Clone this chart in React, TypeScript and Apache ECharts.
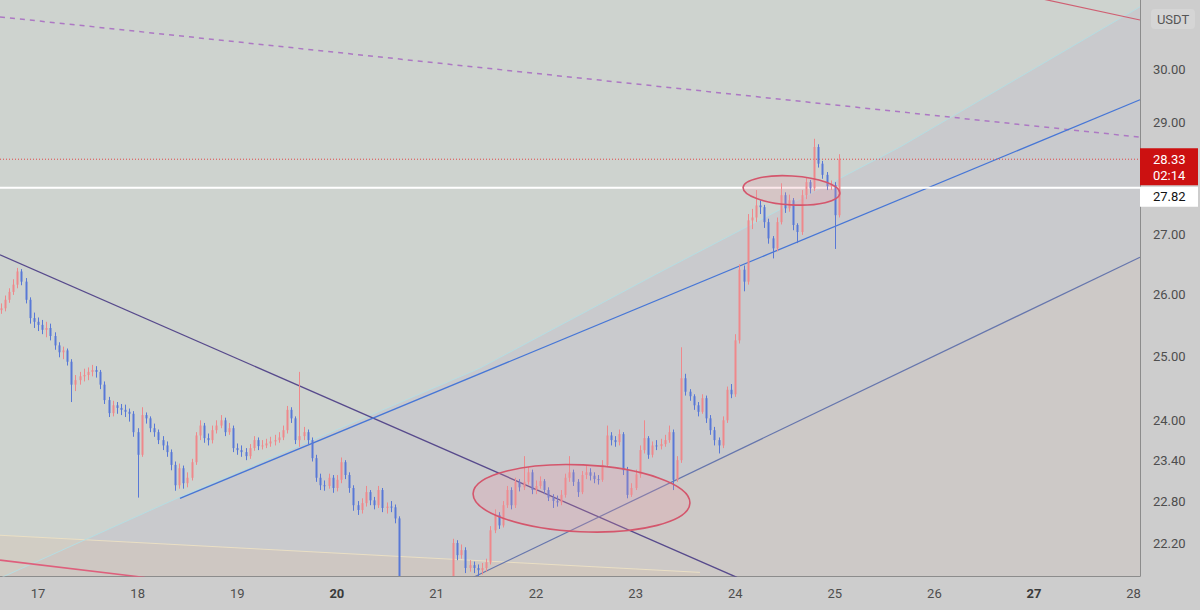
import React, { useEffect, useRef } from "react";
import * as echarts from "echarts";

// ---- axes ----
const X_MIN = 16.618;
const X_MAX = 28.064;
const P_MIN = 21.74;
const P_MAX = 31.345;
const dayTicks = [17, 18, 19, 20, 21, 22, 23, 24, 25, 26, 27, 28];
const boldDays = [20, 27];
const priceTicks = [22.2, 22.8, 23.4, 24, 25, 26, 27, 29, 30];

// ---- candles (hourly) ----
const candleStart = 16.625;
const candleStep = 1 / 24;
const firstOpen = 25.74;
const closes = [
  25.77, 25.91, 26.04, 26.16, 26.38, 26.21, 25.91, 25.61, 25.55, 25.50,
  25.42, 25.45, 25.32, 25.17, 25.06, 25.09, 24.91, 24.55, 24.62, 24.68,
  24.70, 24.75, 24.78, 24.75, 24.55, 24.31, 24.11, 24.23, 24.19, 24.16,
  24.13, 24.10, 23.82, 23.48, 24.08, 24.03, 23.88, 23.82, 23.70, 23.62,
  23.52, 23.33, 23.03, 23.28, 23.06, 23.14, 23.37, 23.77, 23.92, 23.73,
  23.70, 23.85, 23.92, 24.00, 23.82, 23.88, 23.58, 23.55, 23.52, 23.46,
  23.58, 23.70, 23.61, 23.62, 23.65, 23.68, 23.70, 23.74, 23.85, 24.16,
  24.03, 23.70, 23.76, 23.82, 23.70, 23.43, 23.14, 23.03, 23.02, 23.14,
  22.99, 23.11, 23.37, 23.18, 22.99, 22.74, 22.67, 22.77, 22.93, 22.81,
  22.74, 22.96, 22.70, 22.72, 22.71, 22.55, 21.55, 21.44, 21.41, 21.48,
  21.38, 21.44, 21.41, 21.48, 21.44, 21.52, 21.46, 21.55, 21.62, 22.20,
  22.03, 22.10, 21.85, 21.89, 21.85, 21.82, 21.85, 21.93, 22.38, 22.60,
  22.45, 22.74, 22.96, 22.74, 23.08, 23.00, 23.08, 23.22, 22.96, 23.02,
  23.09, 22.96, 22.85, 22.80, 22.78, 22.89, 23.14, 23.22, 23.08, 22.93,
  23.18, 23.22, 23.17, 23.12, 23.11, 23.33, 23.77, 23.70, 23.67, 23.79,
  23.25, 22.89, 22.99, 23.19, 23.55, 23.73, 23.48, 23.62, 23.61, 23.64,
  23.70, 23.82, 23.11, 23.40, 24.65, 24.44, 24.37, 24.23, 24.13, 24.34,
  24.03, 23.85, 23.70, 23.62, 24.00, 24.47, 24.40, 25.25, 26.41, 26.21,
  27.25, 27.30, 27.51, 27.48, 27.22, 26.94, 26.77, 27.22, 27.69, 27.46,
  27.60, 27.17, 27.05, 27.69, 27.92, 27.81, 28.55, 28.25, 28.05, 27.85,
  27.87, 27.34, 28.33,
];
const highs = [
  25.85, 25.98, 26.10, 26.25, 26.44, 26.42, 26.27, 25.95, 25.70, 25.62,
  25.58, 25.55, 25.52, 25.38, 25.22, 25.15, 25.12, 24.95, 24.70, 24.75,
  24.80, 24.82, 24.86, 24.84, 24.78, 24.60, 24.36, 24.30, 24.28, 24.25,
  24.24, 24.18, 24.14, 23.88, 24.20, 24.12, 24.06, 23.95, 23.86, 23.76,
  23.68, 23.56, 23.38, 23.35, 23.32, 23.22, 23.42, 23.82, 24.00, 23.96,
  23.80, 23.92, 24.00, 24.08, 24.04, 23.96, 23.92, 23.65, 23.62, 23.58,
  23.64, 23.76, 23.74, 23.70, 23.72, 23.75, 23.78, 23.82, 23.92, 24.22,
  24.20, 24.06, 24.75, 23.90, 23.86, 23.74, 23.48, 23.20, 23.10, 23.20,
  23.18, 23.18, 23.44, 23.40, 23.22, 23.03, 22.80, 22.84, 23.02, 22.96,
  22.86, 23.02, 22.99, 22.78, 22.80, 22.75, 22.58, 21.60, 21.50, 21.55,
  21.52, 21.50, 21.50, 21.55, 21.54, 21.58, 21.57, 21.62, 21.70, 22.26,
  22.24, 22.18, 22.14, 21.96, 21.94, 21.90, 21.92, 21.98, 22.44, 22.68,
  22.64, 22.80, 23.02, 23.00, 23.14, 23.12, 23.46, 23.30, 23.26, 23.10,
  23.16, 23.12, 23.00, 22.90, 22.88, 22.96, 23.20, 23.46, 23.26, 23.12,
  23.24, 23.32, 23.28, 23.22, 23.18, 23.40, 23.92, 23.82, 23.76, 23.86,
  23.82, 23.30, 23.06, 23.26, 23.62, 24.00, 23.76, 23.68, 23.70, 23.72,
  23.78, 23.92, 23.86, 23.46, 25.14, 24.72, 24.48, 24.40, 24.28, 24.40,
  24.38, 24.08, 23.90, 23.74, 24.06, 24.52, 24.56, 25.35, 26.50, 26.48,
  27.36, 27.45, 27.78, 27.60, 27.52, 27.28, 26.98, 27.30, 27.90, 27.74,
  27.70, 27.64, 27.20, 27.78, 28.00, 27.96, 28.70, 28.60, 28.30, 28.10,
  27.95, 27.92, 28.42,
];
const lows = [
  25.68, 25.72, 25.86, 25.99, 26.10, 26.15, 25.85, 25.52, 25.45, 25.40,
  25.35, 25.30, 25.25, 25.10, 24.98, 24.95, 24.85, 24.28, 24.45, 24.55,
  24.60, 24.62, 24.68, 24.66, 24.48, 24.25, 24.05, 24.06, 24.10, 24.08,
  24.05, 23.98, 23.75, 22.85, 23.45, 23.95, 23.82, 23.75, 23.64, 23.55,
  23.45, 23.25, 22.95, 22.98, 22.98, 23.00, 23.10, 23.33, 23.70, 23.66,
  23.62, 23.65, 23.80, 23.88, 23.76, 23.78, 23.52, 23.48, 23.45, 23.40,
  23.42, 23.54, 23.55, 23.56, 23.58, 23.60, 23.62, 23.66, 23.70, 23.80,
  23.96, 23.64, 23.60, 23.70, 23.64, 23.38, 23.08, 22.96, 22.95, 22.98,
  22.92, 22.94, 23.06, 23.12, 22.92, 22.66, 22.60, 22.62, 22.72, 22.74,
  22.68, 22.70, 22.64, 22.62, 22.64, 22.48, 21.48, 21.38, 21.33, 21.36,
  21.30, 21.32, 21.35, 21.36, 21.38, 21.40, 21.40, 21.42, 21.50, 21.58,
  21.96, 21.98, 21.78, 21.80, 21.78, 21.74, 21.76, 21.80, 21.90, 22.34,
  22.40, 22.42, 22.70, 22.68, 22.70, 22.94, 22.96, 23.04, 22.90, 22.90,
  22.98, 22.90, 22.80, 22.70, 22.72, 22.74, 22.85, 23.08, 23.02, 22.86,
  22.90, 23.12, 23.10, 23.06, 23.04, 23.08, 23.30, 23.62, 23.60, 23.62,
  23.18, 22.84, 22.86, 22.96, 23.14, 23.50, 23.42, 23.44, 23.55, 23.56,
  23.60, 23.66, 22.96, 23.08, 23.36, 24.38, 24.30, 24.16, 24.06, 24.10,
  23.96, 23.78, 23.62, 23.50, 23.58, 23.96, 24.34, 24.36, 25.20, 26.05,
  26.16, 27.10, 27.22, 27.36, 27.12, 26.85, 26.60, 26.72, 27.18, 27.38,
  27.40, 27.08, 26.86, 27.00, 27.62, 27.72, 27.76, 28.18, 27.98, 27.78,
  27.78, 26.76, 27.30,
];

// ---- drawings (day, price) ----
const lightCurve = [[16.618, 21.71], [18.395, 22.84], [21.437, 24.81], [23.245, 26.37], [25.654, 28.55], [28.064, 31.21]];
const blueMid = [[18.425, 22.84], [28.064, 29.42]];
const lowerLine = [[21.367, 21.72], [28.064, 26.62]];
const purpleDesc = [[16.618, 26.66], [24.018, 21.72]];
const purpleDashed = [[16.618, 31.01], [28.064, 28.73]];
const pinkTop = [[27.05, 31.38], [28.064, 30.95]];
const pinkBottom = [[16.618, 21.96], [18.074, 21.72]];
const creamLine = [[16.618, 22.31], [23.646, 21.79]];
const lastPrice = 28.33;
const countdown = "02:14";
const levelPrice = 27.82;

const ellipses = [
  { left: 21.367, right: 23.546, top: 23.33, bottom: 22.36, rot: -0.045 },
  { left: 24.078, right: 25.052, top: 28.03, bottom: 27.52, rot: -0.06 },
];

const UP = "#ef888b";
const DOWN = "#5878d6";
const FONT = "Roboto, 'Noto Sans', sans-serif";
const L = (p: number) => Math.log(p);

export default function App() {
  const ref = useRef<HTMLDivElement>(null);
  useEffect(() => {
    if (!ref.current) return;
    const chart = echarts.init(ref.current, null, { renderer: "svg" });

    const candles = closes.map((c, i) => {
      const o = i === 0 ? firstOpen : closes[i - 1];
      return [candleStart + i * candleStep, L(o), L(c), L(lows[i]), L(highs[i])];
    });

    const regions = [
      {
        pts: [...lightCurve, [28.064, 26.62], [21.367, 21.72], [16.618, 21.71]],
        fill: "#c9cacd",
      },
      {
        pts: [[21.367, 21.72], [28.064, 26.62], [28.064, 21.6], [21.367, 21.6]],
        fill: "#cdc9c7",
      },
      {
        pts: [creamLine[0], creamLine[1], [23.646, 21.6], [16.618, 21.6]],
        fill: "rgba(214,194,176,0.35)",
      },
    ];

    const line = (pts: number[][], style: any, z: number) => ({
      type: "line",
      data: pts.map(([t, p]) => [t, L(p)]),
      symbol: "none",
      silent: true,
      clip: true,
      z,
      lineStyle: style,
    });

    chart.setOption({
      animation: false,
      backgroundColor: "#cdcdcd",
      grid: {
        left: 0,
        top: 0,
        right: 60,
        bottom: 34,
        show: true,
        backgroundColor: "#ced3cf",
        borderWidth: 0,
      },
      xAxis: {
        type: "value",
        min: X_MIN,
        max: X_MAX,
        axisLine: { show: true, lineStyle: { color: "#8c8c8c", width: 1 } },
        axisTick: { show: false },
        splitLine: { show: false },
        axisLabel: {
          customValues: dayTicks,
          margin: 11,
          fontFamily: FONT,
          fontSize: 13,
          color: "#4e4e4e",
          formatter: (v: number) =>
            boldDays.includes(Math.round(v)) ? `{b|${Math.round(v)}}` : `${Math.round(v)}`,
          rich: { b: { fontFamily: FONT, fontSize: 13, fontWeight: "bold", color: "#3a3a3a" } },
        },
      },
      yAxis: {
        type: "value",
        position: "right",
        min: L(P_MIN),
        max: L(P_MAX),
        axisLine: { show: true, lineStyle: { color: "#8c8c8c", width: 1 } },
        axisTick: { show: false },
        splitLine: { show: false },
        axisLabel: {
          customValues: priceTicks.map(L),
          margin: 13,
          fontFamily: FONT,
          fontSize: 13,
          color: "#4e4e4e",
          formatter: (v: number) => Math.exp(v).toFixed(2),
        },
      },
      series: [
        {
          type: "custom",
          silent: true,
          clip: true,
          z: 0,
          data: regions.map((r) => [r.pts[0][0], L(r.pts[0][1])]),
          encode: { x: 0, y: 1 },
          renderItem: (params: any, api: any) => {
            const r = regions[params.dataIndex];
            const points = r.pts.map(([t, p]) => api.coord([t, L(p)]));
            return { type: "polygon", shape: { points }, style: { fill: r.fill } };
          },
        },
        line(creamLine, { color: "#eadfc4", width: 1 }, 1),
        line(lightCurve, { color: "#b6dde2", width: 1 }, 1),
        line(pinkBottom, { color: "#de5f7c", width: 1.6 }, 2),
        line(pinkTop, { color: "#cf5f72", width: 1.2 }, 2),
        line(purpleDashed, { color: "#ad78c4", width: 1.5, type: [5, 5] }, 2),
        line(purpleDesc, { color: "#574a8c", width: 1.3 }, 2),
        line(lowerLine, { color: "#6676ad", width: 1.2 }, 2),
        line(blueMid, { color: "#4676d6", width: 1.3 }, 2),
        line([[X_MIN, levelPrice], [X_MAX, levelPrice]], { color: "#ffffff", width: 2 }, 3),
        line([[X_MIN, lastPrice], [X_MAX, lastPrice]], { color: "#e04848", width: 1, type: [1, 2] }, 3),
        {
          type: "custom",
          silent: true,
          clip: true,
          z: 4,
          data: candles,
          encode: { x: 0, y: [1, 2, 3, 4] },
          renderItem: (params: any, api: any) => {
            const t = api.value(0);
            const o = api.value(1);
            const c = api.value(2);
            const lo = api.value(3);
            const hi = api.value(4);
            const pO = api.coord([t, o]);
            const pC = api.coord([t, c]);
            const pL = api.coord([t, lo]);
            const pH = api.coord([t, hi]);
            const x = Math.round(pO[0]) + 0.5;
            const color = c >= o ? UP : DOWN;
            const top = Math.min(pO[1], pC[1]);
            const h = Math.max(1, Math.abs(pO[1] - pC[1]));
            return {
              type: "group",
              children: [
                { type: "line", shape: { x1: x, y1: pH[1], x2: x, y2: pL[1] }, style: { stroke: color, lineWidth: 1 } },
                { type: "rect", shape: { x: x - 1, y: top, width: 2, height: h }, style: { fill: color } },
              ],
            };
          },
        },
        {
          type: "custom",
          silent: true,
          clip: true,
          z: 5,
          data: ellipses.map((e) => [e.left, L(e.top)]),
          encode: { x: 0, y: 1 },
          renderItem: (params: any, api: any) => {
            const e = ellipses[params.dataIndex];
            const tl = api.coord([e.left, L(e.top)]);
            const br = api.coord([e.right, L(e.bottom)]);
            const cx = (tl[0] + br[0]) / 2;
            const cy = (tl[1] + br[1]) / 2;
            return {
              type: "ellipse",
              x: cx,
              y: cy,
              rotation: e.rot,
              shape: { cx: 0, cy: 0, rx: (br[0] - tl[0]) / 2, ry: (br[1] - tl[1]) / 2 },
              style: { fill: "rgba(240,150,165,0.22)", stroke: "#d4566c", lineWidth: 1.6 },
            };
          },
        },
      ],
    });

    const yLast = chart.convertToPixel({ gridIndex: 0 }, [X_MAX, L(lastPrice)])[1];
    const yLevel = chart.convertToPixel({ gridIndex: 0 }, [X_MAX, L(levelPrice)])[1];
    const axisX = chart.convertToPixel({ gridIndex: 0 }, [X_MAX, L(lastPrice)])[0];

    chart.setOption({
      graphic: [
        {
          type: "rect",
          shape: { x: 1151, y: 9, width: 44, height: 20, r: 4 },
          style: { fill: "#d5d5d5" },
          z: 10,
        },
        {
          type: "text",
          x: 1173,
          y: 19,
          style: { text: "USDT", fill: "#555555", font: `13px ${FONT}`, align: "center", verticalAlign: "middle" },
          z: 11,
        },
        {
          type: "rect",
          shape: { x: axisX, y: yLast - 11, width: 58, height: 37 },
          style: { fill: "#cc1111" },
          z: 10,
        },
        {
          type: "text",
          x: axisX + 13,
          y: yLast,
          style: { text: lastPrice.toFixed(2), fill: "#ffffff", font: `13px ${FONT}`, verticalAlign: "middle" },
          z: 11,
        },
        {
          type: "text",
          x: axisX + 13,
          y: yLast + 16,
          style: { text: countdown, fill: "#ffffff", font: `13px ${FONT}`, verticalAlign: "middle" },
          z: 11,
        },
        {
          type: "rect",
          shape: { x: axisX, y: yLevel - 1, width: 58, height: 20 },
          style: { fill: "#ffffff" },
          z: 10,
        },
        {
          type: "text",
          x: axisX + 13,
          y: yLevel + 9,
          style: { text: levelPrice.toFixed(2), fill: "#131313", font: `13px ${FONT}`, verticalAlign: "middle" },
          z: 11,
        },
      ],
    });

    return () => chart.dispose();
  }, []);

  return (
    <div
      ref={ref}
      style={{ position: "absolute", left: 0, top: 0, width: 1200, height: 610 }}
    />
  );
}
